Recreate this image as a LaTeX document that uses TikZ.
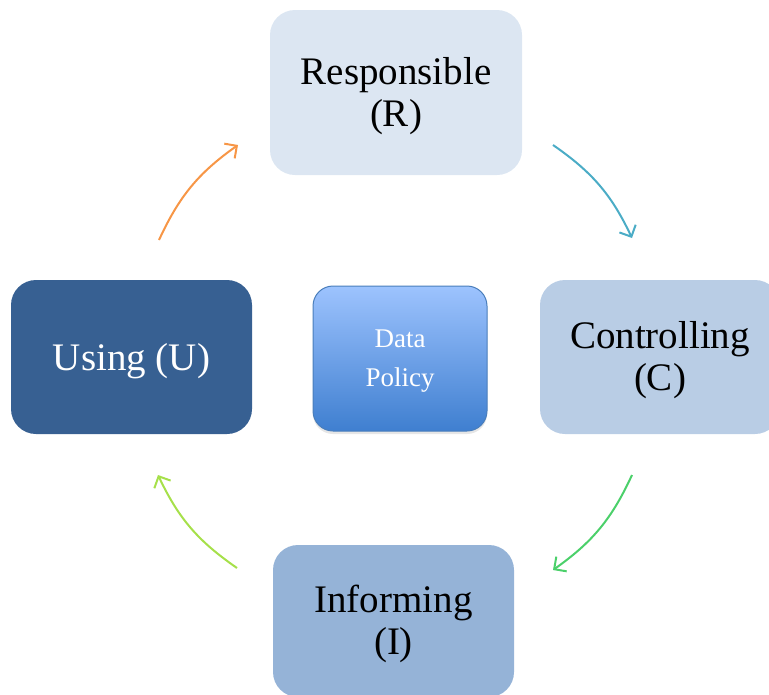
\documentclass[tikz,border=0pt]{standalone}
\usepackage{fontspec}
\setmainfont{Liberation Serif}
\usepackage{tikz}
\usetikzlibrary{
        arrows.meta,
        positioning,
        shadows
    }
\definecolor{respfill}{HTML}{DCE6F2}
\definecolor{contfill}{HTML}{B9CDE5}
\definecolor{infofill}{HTML}{95B3D7}
\definecolor{usefill}{HTML}{376092}
\definecolor{policytop}{HTML}{9DC3FE}
\definecolor{policybot}{HTML}{3F7FD0}
\definecolor{policyedge}{HTML}{4A7EBB}
\definecolor{arrorange}{HTML}{F79646}
\definecolor{arrteal}{HTML}{4BACC6}
\definecolor{arrgreen}{HTML}{4BD06A}
\definecolor{arrlime}{HTML}{A6E04A}
\tikzset{>={Straight Barb[length=9pt,width=18pt,line width=2pt]}}
\tikzset{
    role/.style={draw=none,rounded corners=25pt,inner sep=0pt},
    roletext/.style={align=center,font=\fontsize{39}{42}\selectfont,inner sep=0pt},
    policy/.style={draw=policyedge,line width=1pt,rounded corners=20pt,
        top color=policytop,bottom color=policybot,
        minimum width=174pt,minimum height=145pt,
        drop shadow={shadow xshift=0pt,shadow yshift=-3pt,opacity=0.2}},
    policytext/.style={text=white,align=center,font=\fontsize{27}{39}\selectfont,inner sep=0pt},
    cycle/.style={->,line width=2pt,bend left=15}
}

\begin{document}
\begin{tikzpicture}[x=1pt,y=1pt]
                \clip (0,0) rectangle (769,-694);
                \useasboundingbox (0,0) rectangle (769,-694);
                % the four roles
                \node[role,fill=respfill,minimum width=252pt,minimum height=165pt] (resp) at (396,-92.5) {};
                \node[role,fill=contfill,minimum width=240pt,minimum height=154pt] (cont) at (660,-357) {};
                \node[role,fill=infofill,minimum width=241pt,minimum height=152pt] (info) at (393.5,-621) {};
                \node[role,fill=usefill,minimum width=241pt,minimum height=154pt] (use) at (131.5,-357) {};
                \node[roletext] (resptext) at ([yshift=-4pt]resp.center) {Responsible\\(R)};
                \node[roletext] (conttext) at ([yshift=-3pt]cont.center) {Controlling\\(C)};
                \node[roletext] (infotext) at ([yshift=-3pt]info.center) {Informing\\(I)};
                \node[roletext,text=white] (usetext) at ([yshift=-4pt]use.center) {Using (U)};
                % centre
                \node[policy] (pol) at (400,-358.5) {};
                \node[policytext] (poltext) at ([yshift=-3pt]pol.center) {Data\\Policy};
                % arrow ends
                \coordinate (ua) at (159,-240);
                \coordinate (rb) at (238,-145);
                \coordinate (ra) at (553,-145);
                \coordinate (cb) at (632,-238);
                \coordinate (ca) at (632,-475);
                \coordinate (ib) at (553,-570);
                \coordinate (ia) at (237,-568);
                \coordinate (ub) at (158,-475);
                \draw[cycle,arrorange] (ua) to (rb);
                \draw[cycle,arrteal] (ra) to (cb);
                \draw[cycle,arrgreen] (ca) to (ib);
                \draw[cycle,arrlime] (ia) to (ub);
            \end{tikzpicture}
\end{document}
